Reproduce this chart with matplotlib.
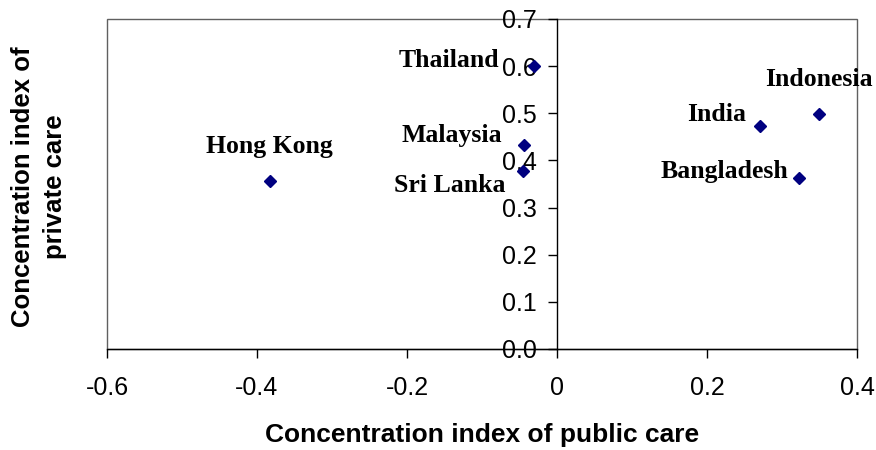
import matplotlib
matplotlib.use("Agg")
import matplotlib.pyplot as plt
from matplotlib.patches import Rectangle

plt.rcParams['axes.unicode_minus'] = False

countries = ["Thailand", "Malaysia", "Sri Lanka", "Hong Kong", "India", "Indonesia", "Bangladesh"]
public_ci = [-0.031, -0.044, -0.046, -0.383, 0.271, 0.349, 0.322]
private_ci = [0.600, 0.433, 0.378, 0.356, 0.472, 0.498, 0.362]

# label offsets (points) and alignment
label_offsets = [(-25, -0.7), (-15.5, 2.2), (-12.2, -15), (0, 20), (-10, 4.3), (0, 20), (-7.2, 0)]
label_ha = ["right", "right", "right", "center", "right", "center", "right"]

x_ticks = [-0.6, -0.4, -0.2, 0, 0.2, 0.4]
x_ticklabels = ["-0.6", "-0.4", "-0.2", "0", "0.2", "0.4"]
y_ticks = [0.0, 0.1, 0.2, 0.3, 0.4, 0.5, 0.6, 0.7]
y_ticklabels = ["0.0", "0.1", "0.2", "0.3", "0.4", "0.5", "0.6", "0.7"]

fig = plt.figure(figsize=(8.76, 4.5), dpi=100)
ax = fig.add_axes([107 / 876, 101 / 450, 750 / 876, 330 / 450])

ax.set_xlim(-0.6, 0.4)
ax.set_ylim(0, 0.7)

# plot area border
ax.add_patch(Rectangle((0, 0), 1, 1, transform=ax.transAxes, fill=False,
                       edgecolor="#606060", lw=1, zorder=0.5, clip_on=False))

ax.spines['top'].set_visible(False)
ax.spines['right'].set_visible(False)
ax.spines['left'].set_position(('data', 0))
ax.spines['left'].set_color("black")
ax.spines['bottom'].set_color("black")
ax.spines['left'].set_linewidth(1)
ax.spines['bottom'].set_linewidth(1)

ax.set_xticks(x_ticks)
ax.set_xticklabels(x_ticklabels, fontfamily="Liberation Sans", fontsize=18)
ax.set_yticks(y_ticks)
ax.set_yticklabels(y_ticklabels, fontfamily="Liberation Sans", fontsize=18)
ax.tick_params(axis='x', direction='out', length=6.5, width=1, pad=13)
ax.tick_params(axis='y', direction='out', length=6.5, width=1, pad=8)

ax.plot(public_ci, private_ci, linestyle="none", marker="D", ms=6,
        color="#000080", mec="#000080", zorder=3, clip_on=False)

for name, x, y, off, ha in zip(countries, public_ci, private_ci, label_offsets, label_ha):
    ax.annotate(name, (x, y), xytext=off, textcoords="offset points",
                ha=ha, va="baseline", fontfamily="Liberation Serif",
                fontweight="bold", fontsize=18.5, zorder=4, annotation_clip=False)

fig.text(482 / 876, (450 - 441.7) / 450, "Concentration index of public care",
         ha="center", va="baseline", fontfamily="Liberation Sans",
         fontweight="bold", fontsize=19)
fig.text(39 / 876, (450 - 187) / 450, "Concentration index of\nprivate care",
         ha="center", va="center", rotation=90, multialignment="center",
         fontfamily="Liberation Sans", fontweight="bold", fontsize=18.5,
         linespacing=1.45)

fig.savefig("out.png", dpi=100)
